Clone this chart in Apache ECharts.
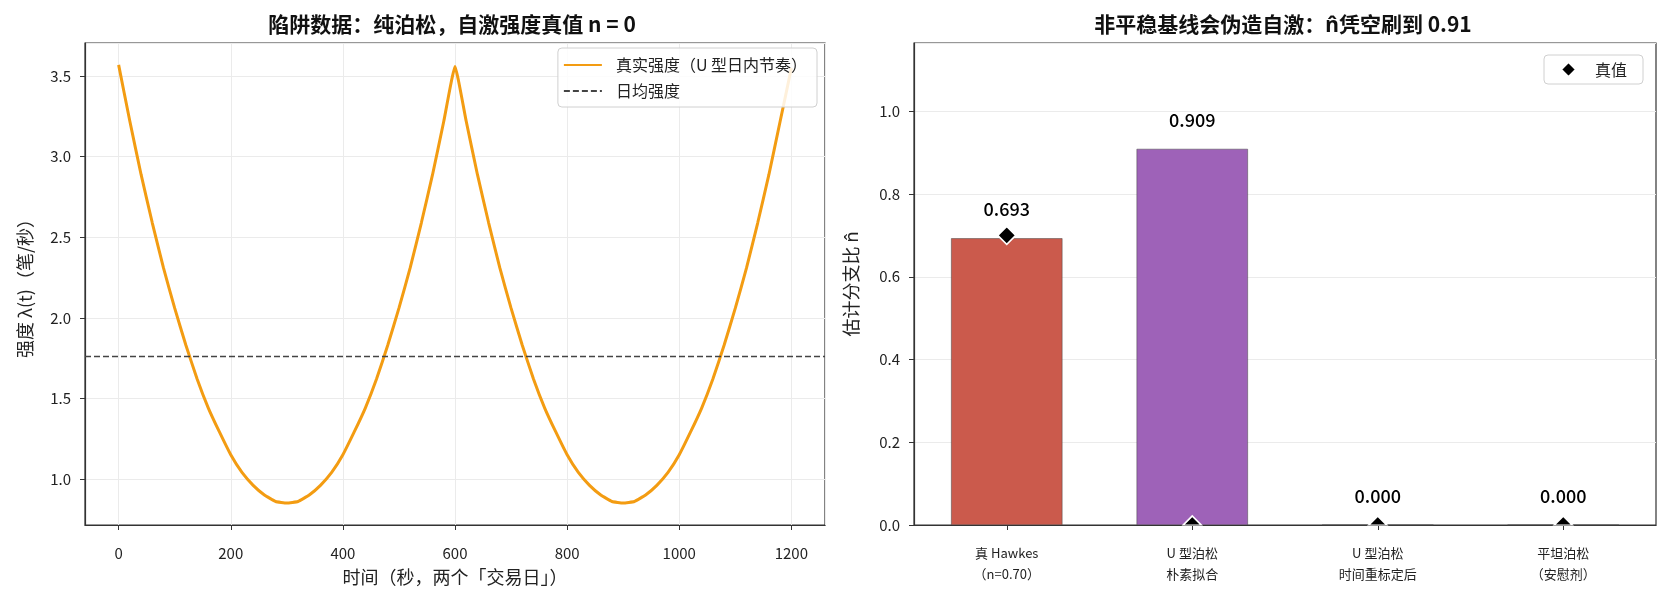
<!DOCTYPE html>
<html>
<head>
<meta charset="utf-8">
<title>陷阱数据</title>
<script src="https://cdn.jsdelivr.net/npm/echarts@6/dist/echarts.min.js"></script>
<style>
    html, body { margin: 0; padding: 0; background: #fff; }
    #chart { width: 1667px; height: 601px; }
</style>
</head>
<body>
<div id="chart"></div>
<script>
// 左图：U 型日内强度（两个交易日，每日 600 秒）
var times = [
    0, 20, 40, 60, 80, 100, 120, 140, 160, 180, 200, 220, 240, 260, 280,
    300, 320, 340, 360, 380, 400, 420, 440, 460, 480, 500, 520, 540, 560, 580,
    600, 620, 640, 660, 680, 700, 720, 740, 760, 780, 800, 820, 840, 860, 880,
    900, 920, 940, 960, 980, 1000, 1020, 1040, 1060, 1080, 1100, 1120, 1140, 1160, 1180,
    1200
];
var intensity = [
    3.57, 3.22, 2.89, 2.59, 2.31, 2.06, 1.83, 1.62, 1.44, 1.29, 1.15, 1.04, 0.96, 0.90, 0.86,
    0.85, 0.86, 0.90, 0.96, 1.04, 1.15, 1.29, 1.44, 1.62, 1.83, 2.06, 2.31, 2.59, 2.89, 3.22,
    3.56, 3.22, 2.89, 2.59, 2.31, 2.06, 1.83, 1.62, 1.44, 1.29, 1.15, 1.04, 0.96, 0.90, 0.86,
    0.85, 0.86, 0.90, 0.96, 1.04, 1.15, 1.29, 1.44, 1.62, 1.83, 2.06, 2.31, 2.59, 2.89, 3.22,
    3.55
];
var meanIntensity = 1.76;

// 右图：估计分支比
var categories = ['真 Hawkes\n（n=0.70）', 'U 型泊松\n朴素拟合', 'U 型泊松\n时间重标定后', '平坦泊松\n（安慰剂）'];
var estimates = [0.693, 0.909, 0.000, 0.000];
var trueValues = [0.70, 0, 0, 0];
var barColors = ['#cb5a4c', '#9e62b8', '#7f8c8d', '#7f8c8d'];

var FONT = '"Noto Sans CJK SC", "Noto Sans", sans-serif';
var xRange = [-60, 1260];
var yRange = [0.714, 3.706];

var chart = echarts.init(document.getElementById('chart'));

var curveData = [];
for (var i = 0; i < times.length; i++) {
    curveData.push([times[i], intensity[i]]);
}

var barData = [];
for (var j = 0; j < estimates.length; j++) {
    barData.push({value: estimates[j], itemStyle: {color: barColors[j]}});
}

// 值为 0 的菱形被坐标轴截掉一半，用上半个三角形表示
var truthData = [];
for (var k = 0; k < trueValues.length; k++) {
    if (trueValues[k] === 0) {
        truthData.push({value: trueValues[k], symbol: 'triangle', symbolSize: [18, 9], symbolOffset: [0, '-50%']});
    } else {
        truthData.push({value: trueValues[k]});
    }
}

var axisLineStyle = {show: true, onZero: false, lineStyle: {color: '#333', width: 1.2}};
var tickStyle = {show: true, inside: false, length: 5, lineStyle: {color: '#333', width: 1}};
var gridLine = {show: true, lineStyle: {color: '#ebebeb', width: 1}};

function plain(v) {
    return String(v);
}

var option = {
    backgroundColor: '#fff',
    textStyle: {fontFamily: FONT},
    title: [
        {
            text: '陷阱数据：纯泊松，自激强度真值 n = 0',
            left: 447, top: 9, textAlign: 'center',
            textStyle: {fontFamily: FONT, fontSize: 21, fontWeight: 'bold', color: '#111'}
        },
        {
            text: '非平稳基线会伪造自激：n̂凭空刷到 0.91',
            left: 1278, top: 9, textAlign: 'center',
            textStyle: {fontFamily: FONT, fontSize: 21, fontWeight: 'bold', color: '#111'}
        }
    ],
    legend: [
        {
            orient: 'vertical',
            right: 850, top: 48,
            padding: [9, 10, 8, 5],
            itemGap: 10,
            itemWidth: 38, itemHeight: 16,
            borderColor: '#d0d0d0', borderWidth: 1, borderRadius: 4,
            backgroundColor: 'rgba(255,255,255,0.85)',
            itemStyle: {opacity: 0},
            textStyle: {fontFamily: FONT, fontSize: 16, color: '#222', padding: [0, 0, 0, 9]},
            data: ['真实强度（U 型日内节奏）', '日均强度']
        },
        {
            orient: 'vertical',
            right: 24, top: 55,
            padding: [6, 16, 6, 16],
            itemWidth: 15, itemHeight: 15,
            borderColor: '#d0d0d0', borderWidth: 1, borderRadius: 4,
            backgroundColor: 'rgba(255,255,255,0.85)',
            textStyle: {fontFamily: FONT, fontSize: 16, color: '#222', padding: [0, 0, 0, 14]},
            data: [{name: '真值', icon: 'diamond'}]
        }
    ],
    grid: [
        {left: 85, right: 842, top: 43, bottom: 76, show: true, borderColor: '#333', borderWidth: 1.2},
        {left: 914, right: 11, top: 43, bottom: 76, show: true, borderColor: '#333', borderWidth: 1.2}
    ],
    xAxis: [
        {
            type: 'value', gridIndex: 0,
            min: xRange[0], max: xRange[1], splitNumber: 7,
            name: '时间（秒，两个「交易日」）',
            nameLocation: 'middle', nameGap: 43,
            nameTextStyle: {fontFamily: FONT, fontSize: 18, color: '#222'},
            axisLine: axisLineStyle, axisTick: tickStyle,
            axisLabel: {fontFamily: FONT, fontSize: 15, color: '#222', margin: 21, showMinLabel: false, showMaxLabel: false, formatter: plain},
            splitLine: gridLine
        },
        {
            type: 'category', gridIndex: 1,
            data: categories,
            axisLine: axisLineStyle,
            axisTick: {show: true, alignWithLabel: true, length: 5, lineStyle: {color: '#333'}},
            axisLabel: {fontFamily: FONT, fontSize: 13, color: '#222', margin: 18, lineHeight: 21, interval: 0},
            splitLine: {show: false}
        }
    ],
    yAxis: [
        {
            type: 'value', gridIndex: 0,
            min: yRange[0], max: yRange[1], splitNumber: 6,
            name: '强度 λ(t)（笔/秒）',
            nameLocation: 'middle', nameGap: 51,
            nameTextStyle: {fontFamily: FONT, fontSize: 18, color: '#222'},
            axisLine: axisLineStyle, axisTick: tickStyle,
            axisLabel: {
                fontFamily: FONT, fontSize: 15, color: '#222', margin: 14,
                showMinLabel: false, showMaxLabel: false,
                formatter: function (v) { return v.toFixed(1); }
            },
            splitLine: gridLine
        },
        {
            type: 'value', gridIndex: 1,
            min: 0, max: 1.165, interval: 0.2,
            name: '估计分支比 n̂',
            nameLocation: 'middle', nameGap: 54,
            nameTextStyle: {fontFamily: FONT, fontSize: 18, color: '#222'},
            axisLine: axisLineStyle, axisTick: tickStyle,
            axisLabel: {
                fontFamily: FONT, fontSize: 15, color: '#222', margin: 14,
                showMaxLabel: false,
                formatter: function (v) { return v.toFixed(1); }
            },
            splitLine: gridLine
        }
    ],
    series: [
        {
            name: '真实强度（U 型日内节奏）',
            type: 'line', xAxisIndex: 0, yAxisIndex: 0,
            data: curveData,
            smooth: 0.12,
            showSymbol: false, symbol: 'none',
            lineStyle: {color: '#f39c12', width: 3},
            itemStyle: {color: '#f39c12'},
            z: 3
        },
        {
            name: '日均强度',
            type: 'line', xAxisIndex: 0, yAxisIndex: 0,
            data: [[xRange[0], meanIntensity], [xRange[1], meanIntensity]],
            showSymbol: false, symbol: 'none',
            lineStyle: {color: '#444', width: 1.7, type: [6, 3]},
            itemStyle: {color: '#444'},
            z: 4
        },
        {
            name: '估计值',
            type: 'bar', xAxisIndex: 1, yAxisIndex: 1,
            data: barData,
            barWidth: '60%',
            itemStyle: {borderColor: '#444', borderWidth: 0.5},
            label: {
                show: true, position: 'top', distance: 20,
                fontFamily: FONT, fontSize: 18, fontWeight: 500, color: '#000',
                formatter: function (p) { return p.value.toFixed(3); }
            },
            z: 2
        },
        {
            name: '真值',
            type: 'scatter', xAxisIndex: 1, yAxisIndex: 1,
            data: truthData,
            symbol: 'diamond', symbolSize: 18,
            itemStyle: {color: '#000', opacity: 1, borderColor: '#fff', borderWidth: 1.5},
            z: 5
        }
    ]
};

chart.setOption(option);
</script>
</body>
</html>
